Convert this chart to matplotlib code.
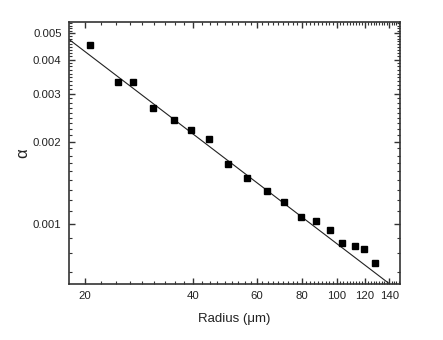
import numpy as np
import matplotlib
matplotlib.use("Agg")
import matplotlib.pyplot as plt
from matplotlib.ticker import FixedLocator, NullFormatter, FixedFormatter

# Data
radius = [20.6, 24.7, 27.2, 31.0, 35.3, 39.4, 44.1, 49.9, 56.4, 64.0,
          71.5, 79.7, 87.7, 95.7, 103.4, 112.3, 119.3, 127.7]
alpha = [0.00453, 0.00331, 0.00331, 0.00265, 0.00241, 0.00221, 0.00204,
         0.00165, 0.00147, 0.00132, 0.00120, 0.00106, 0.00102, 0.000945,
         0.000852, 0.000829, 0.000805, 0.000716]

# Fit line endpoints
fit_x = [17.9, 140.2]
fit_y = [0.00479, 0.000601]

x_major = [20, 40, 60, 80, 100, 120, 140]
x_labels = ["20", "40", "60", "80", "100", "120", "140"]
y_major = [0.001, 0.002, 0.003, 0.004, 0.005]
y_labels = ["0.001", "0.002", "0.003", "0.004", "0.005"]

plt.rcParams['font.family'] = ['Liberation Sans', 'DejaVu Sans']

fig = plt.figure(figsize=(4.43, 3.40), dpi=100)
ax = fig.add_axes([68.5 / 443, 1 - 284 / 340, (400 - 68.5) / 443, (284 - 22) / 340])

ax.plot(fit_x, fit_y, color='#222222', lw=0.8, zorder=2)
ax.plot(radius, alpha, ls='none', marker='s', ms=4.6, color='black', zorder=3)

ax.set_xscale('log')
ax.set_yscale('log')
ax.set_xlim(18, 150)
ax.set_ylim(0.0006, 0.0055)

# Origin-style ticks: minor every 1/9 of major increment
x_minor = [20 + k * 20 / 9 for k in range(-1, 60)]
x_minor = [v for v in x_minor if 18 <= v <= 150 and all(abs(v - m) > 1e-6 for m in x_major)]
y_minor = [0.001 + k * 0.001 / 9 for k in range(-4, 45)]
y_minor = [v for v in y_minor if 0.0006 <= v <= 0.0055 and all(abs(v - m) > 1e-9 for m in y_major)]

ax.xaxis.set_major_locator(FixedLocator(x_major))
ax.xaxis.set_major_formatter(FixedFormatter(x_labels))
ax.xaxis.set_minor_locator(FixedLocator(x_minor))
ax.xaxis.set_minor_formatter(NullFormatter())
ax.yaxis.set_major_locator(FixedLocator(y_major))
ax.yaxis.set_major_formatter(FixedFormatter(y_labels))
ax.yaxis.set_minor_locator(FixedLocator(y_minor))
ax.yaxis.set_minor_formatter(NullFormatter())

ax.tick_params(which='both', direction='in', top=True, right=True,
               color='#333333', labelsize=8.2, labelcolor='#222222')
ax.tick_params(which='major', length=4, width=1.0, pad=5)
ax.tick_params(which='minor', length=2, width=0.8)

for s in ax.spines.values():
    s.set_linewidth(1.2)
    s.set_color('#333333')

ax.set_xlabel('Radius (\u03bcm)', fontsize=9.5, color='#222222', labelpad=9)
ax.set_ylabel('\u03b1', fontsize=12, color='#222222', labelpad=2)

fig.savefig('out.png', dpi=100)
